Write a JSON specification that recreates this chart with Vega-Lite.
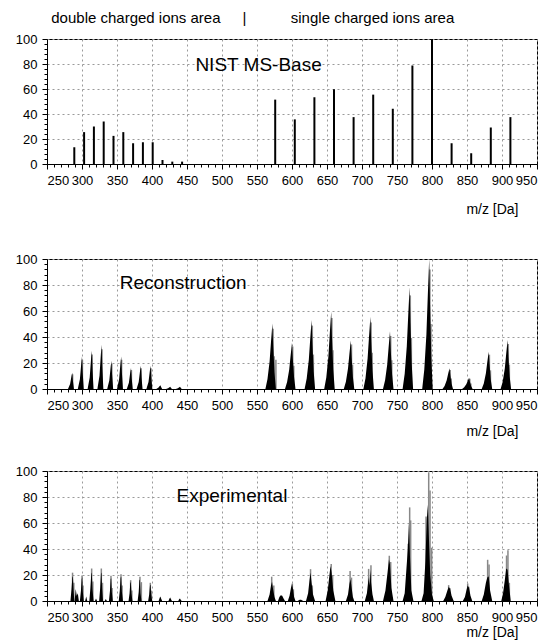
{
  "$schema": "https://vega.github.io/schema/vega-lite/v6.json",
  "padding": {"left": 14, "top": 10, "right": 0, "bottom": 0},
  "bounds": "flush",
  "spacing": 95,
  "config": {
    "font": "Liberation Sans",
    "view": {"stroke": "black", "strokeWidth": 1},
    "axis": {
      "labelFont": "Liberation Sans",
      "labelFontSize": 13,
      "labelColor": "black",
      "labelOverlap": false,
      "domainColor": "black",
      "tickColor": "black",
      "gridColor": "#9a9a9a",
      "gridDash": [2, 3],
      "gridWidth": 1,
      "gridOpacity": 1,
      "titleFont": "Liberation Sans",
      "titleFontWeight": "normal",
      "titleFontSize": 14,
      "titleColor": "black"
    }
  },
  "vconcat": [
    {
      "width": 490,
      "height": 125,
      "resolve": {"axis": {"x": "independent", "y": "independent"}},
      "encoding": {
        "x": {"field": "mz", "type": "quantitative", "scale": {"domain": [250, 950], "nice": false, "zero": false}, "axis": null},
        "y": {"field": "int", "type": "quantitative", "stack": null, "scale": {"domain": [0, 100], "nice": false}, "axis": null}
      },
      "layer": [
        {
          "data": {"values": [
            {"mz": 289, "int": 13.4}, {"mz": 303, "int": 25.5}, {"mz": 317, "int": 30}, {"mz": 331, "int": 34},
            {"mz": 345, "int": 22.5}, {"mz": 359, "int": 25.5}, {"mz": 373, "int": 16.6}, {"mz": 387, "int": 17.4},
            {"mz": 401, "int": 17.4}, {"mz": 415, "int": 3.2}, {"mz": 429, "int": 1.9}, {"mz": 443, "int": 1.9},
            {"mz": 576, "int": 51.5}, {"mz": 604, "int": 35.7}, {"mz": 632, "int": 53.4}, {"mz": 660, "int": 59.8},
            {"mz": 688, "int": 37.5}, {"mz": 716, "int": 55.5}, {"mz": 744, "int": 44.2}, {"mz": 772, "int": 78.8},
            {"mz": 800, "int": 100}, {"mz": 828, "int": 16.6}, {"mz": 856, "int": 8.6}, {"mz": 884, "int": 29.2},
            {"mz": 912, "int": 37.5}
          ]},
          "mark": {"type": "rule", "color": "black", "strokeWidth": 2},
          "encoding": {
            "x": {"field": "mz", "type": "quantitative", "scale": {"domain": [250, 950], "nice": false, "zero": false},
              "axis": {"orient": "bottom", "values": [250,300,350,400,450,500,550,600,650,700,750,800,850,900,950], "grid": true, "tickSize": 5, "labelPadding": 5,
                "title": "m/z  [Da]", "titleAnchor": "end", "titleAlign": "right", "titleBaseline": "middle", "titleX": 471, "titleY": 45}},
            "y": {"field": "int", "type": "quantitative", "stack": null, "scale": {"domain": [0, 100], "nice": false},
              "axis": {"orient": "left", "values": [0,20,40,60,80,100], "grid": true, "tickSize": 5, "labelPadding": 5, "title": null}},
            "y2": {"datum": 0}
          }
        },
        {
          "data": {"values": [
            {"mz": 377, "int": 116.8, "label": "double charged ions area"},
            {"mz": 532, "int": 116.8, "label": "|"},
            {"mz": 715, "int": 116.8, "label": "single charged ions area"}
          ]},
          "mark": {"type": "text", "fontSize": 15, "align": "center", "baseline": "middle", "color": "black"},
          "encoding": {"text": {"field": "label"}}
        },
        {
          "data": {"values": [{"mz": 462, "int": 79.2, "label": "NIST MS-Base"}]},
          "mark": {"type": "text", "fontSize": 19, "align": "left", "baseline": "middle", "color": "black"},
          "encoding": {
            "text": {"field": "label"},
            "x": {"field": "mz", "type": "quantitative", "scale": {"domain": [250, 950], "nice": false, "zero": false},
              "axis": {"orient": "bottom", "values": [260,270,280,290,310,320,330,340,360,370,380,390,410,420,430,440,460,470,480,490,510,520,530,540,560,570,580,590,610,620,630,640,660,670,680,690,710,720,730,740,760,770,780,790,810,820,830,840,860,870,880,890,910,920,930,940], "labels": false, "grid": false, "domain": false, "tickSize": 3, "title": null}},
            "y": {"field": "int", "type": "quantitative", "scale": {"domain": [0, 100], "nice": false},
              "axis": {"orient": "left", "values": [4,8,12,16,24,28,32,36,44,48,52,56,64,68,72,76,84,88,92,96], "labels": false, "grid": false, "domain": false, "tickSize": 3, "title": null}}
          }
        }
      ]
    },
    {
      "bounds": "flush",
      "spacing": 82,
      "vconcat": [
        {
          "width": 490,
          "height": 130,
          "resolve": {"axis": {"x": "independent", "y": "independent"}},
          "encoding": {
            "x": {"field": "mz", "type": "quantitative", "scale": {"domain": [250, 950], "nice": false, "zero": false}, "axis": null},
            "y": {"field": "int", "type": "quantitative", "stack": null, "scale": {"domain": [0, 100], "nice": false}, "axis": null}
          },
          "layer": [
            {
              "data": {"values": [
                {"mz": 286.6, "int": 11.3}, {"mz": 300.6, "int": 22.5}, {"mz": 314.6, "int": 26.6}, {"mz": 328.6, "int": 30.6},
                {"mz": 342.6, "int": 19.5}, {"mz": 356.6, "int": 22.5}, {"mz": 370.6, "int": 14.6}, {"mz": 384.6, "int": 16},
                {"mz": 398.6, "int": 16},
                {"mz": 573, "int": 46.4}, {"mz": 574.5, "int": 25.2}, {"mz": 577, "int": 22.5},
                {"mz": 601, "int": 32.7}, {"mz": 602.5, "int": 17.8},
                {"mz": 629, "int": 48.8}, {"mz": 630.5, "int": 26.5},
                {"mz": 657, "int": 54.7}, {"mz": 658.5, "int": 29.8},
                {"mz": 685, "int": 34.3}, {"mz": 686.5, "int": 18.7},
                {"mz": 713, "int": 51.2}, {"mz": 714.5, "int": 27.8},
                {"mz": 741, "int": 40.8}, {"mz": 742.5, "int": 22.2},
                {"mz": 769, "int": 72}, {"mz": 770.5, "int": 39.2},
                {"mz": 797, "int": 92}, {"mz": 798.5, "int": 50},
                {"mz": 826, "int": 14.7}, {"mz": 827.5, "int": 8},
                {"mz": 854, "int": 7.9}, {"mz": 855.5, "int": 4.3},
                {"mz": 882, "int": 26.4}, {"mz": 883.5, "int": 14.4},
                {"mz": 909, "int": 34.6}, {"mz": 910.5, "int": 18.8}
              ]},
              "mark": {"type": "rule", "color": "#888888", "strokeWidth": 1.5},
              "encoding": {
                "x": {"field": "mz", "type": "quantitative", "scale": {"domain": [250, 950], "nice": false, "zero": false},
                  "axis": {"orient": "bottom", "values": [250,300,350,400,450,500,550,600,650,700,750,800,850,900,950], "grid": true, "tickSize": 5, "labelPadding": 5,
                    "title": "m/z  [Da]", "titleAnchor": "end", "titleAlign": "right", "titleBaseline": "middle", "titleX": 471, "titleY": 42}},
                "y": {"field": "int", "type": "quantitative", "stack": null, "scale": {"domain": [0, 100], "nice": false},
                  "axis": {"orient": "left", "values": [0,20,40,60,80,100], "grid": true, "tickSize": 5, "labelPadding": 5, "title": null}},
                "y2": {"datum": 0}
              }
            },
            {
              "data": {"values": [
                {"c": 1, "mz": [280, 283, 285, 286, 287, 288.5], "int": [0, 3.8, 10, 12.5, 6.3, 0]},
                {"c": 2, "mz": [294, 297, 299, 300, 301, 302.5], "int": [0, 7.5, 20, 25, 12.5, 0]},
                {"c": 3, "mz": [308, 311, 313, 314, 315, 316.5], "int": [0, 8.9, 23.6, 29.5, 14.8, 0]},
                {"c": 4, "mz": [322, 325, 327, 328, 329, 330.5], "int": [0, 10.2, 27.2, 34, 17, 0]},
                {"c": 5, "mz": [336, 339, 341, 342, 343, 344.5], "int": [0, 6.5, 17.4, 21.7, 10.9, 0]},
                {"c": 6, "mz": [350, 353, 355, 356, 357, 358.5], "int": [0, 7.5, 20, 25, 12.5, 0]},
                {"c": 7, "mz": [364, 367, 369, 370, 371, 372.5], "int": [0, 4.9, 13, 16.2, 8.1, 0]},
                {"c": 8, "mz": [378, 381, 383, 384, 385, 386.5], "int": [0, 5.3, 14.2, 17.8, 8.9, 0]},
                {"c": 9, "mz": [392, 395, 397, 398, 399, 400.5], "int": [0, 5.3, 14.2, 17.8, 8.9, 0]},
                {"c": 10, "mz": [406, 409, 411, 412, 413, 414.5], "int": [0, 0.9, 2.3, 2.9, 1.5, 0]},
                {"c": 11, "mz": [420, 423, 425, 426, 427, 428.5], "int": [0, 0.5, 1.4, 1.8, 0.9, 0]},
                {"c": 12, "mz": [434, 437, 439, 440, 441, 442.5], "int": [0, 0.5, 1.4, 1.8, 0.9, 0]},
                {"c": 13, "mz": [562, 565, 568, 570, 572, 573.2, 575, 577], "int": [0, 7.6, 21.2, 36.3, 50.4, 32.8, 12.6, 0]},
                {"c": 14, "mz": [590, 593, 596, 598, 600, 601.2, 603, 605], "int": [0, 5.3, 14.9, 25.6, 35.5, 23.1, 8.9, 0]},
                {"c": 15, "mz": [618, 621, 624, 626, 628, 629.2, 631, 633], "int": [0, 8, 22.3, 38.2, 53, 34.5, 13.3, 0]},
                {"c": 16, "mz": [646, 649, 652, 654, 656, 657.2, 659, 661], "int": [0, 8.9, 25, 42.8, 59.5, 38.7, 14.9, 0]},
                {"c": 17, "mz": [674, 677, 680, 682, 684, 685.2, 687, 689], "int": [0, 5.6, 15.7, 26.9, 37.3, 24.2, 9.3, 0]},
                {"c": 18, "mz": [702, 705, 708, 710, 712, 713.2, 715, 717], "int": [0, 8.3, 23.4, 40, 55.6, 36.1, 13.9, 0]},
                {"c": 19, "mz": [730, 733, 736, 738, 740, 741.2, 743, 745], "int": [0, 6.7, 18.6, 32, 44.4, 28.9, 11.1, 0]},
                {"c": 20, "mz": [758, 761, 764, 766, 768, 769.2, 771, 773], "int": [0, 11.7, 32.9, 56.4, 78.3, 50.9, 19.6, 0]},
                {"c": 21, "mz": [786, 789, 792, 794, 796, 797.2, 799, 801], "int": [0, 15, 42, 72, 100, 65, 25, 0]},
                {"c": 22, "mz": [815, 818, 821, 823, 825, 826.2, 828, 830], "int": [0, 2.4, 6.7, 11.5, 16, 10.4, 4, 0]},
                {"c": 23, "mz": [843, 846, 849, 851, 853, 854.2, 856, 858], "int": [0, 1.3, 3.6, 6.2, 8.6, 5.6, 2.2, 0]},
                {"c": 24, "mz": [871, 874, 877, 879, 881, 882.2, 884, 886], "int": [0, 4.3, 12.1, 20.7, 28.7, 18.7, 7.2, 0]},
                {"c": 25, "mz": [898, 901, 904, 906, 908, 909.2, 911, 913], "int": [0, 5.6, 15.8, 27.1, 37.6, 24.4, 9.4, 0]}
              ]},
              "transform": [{"flatten": ["mz", "int"]}],
              "mark": {"type": "area", "color": "black", "interpolate": "linear"},
              "encoding": {"detail": {"field": "c", "type": "nominal"}}
            },
            {
              "data": {"values": [{"mz": 354, "int": 81.7, "label": "Reconstruction"}]},
              "mark": {"type": "text", "fontSize": 19, "align": "left", "baseline": "middle", "color": "black"},
              "encoding": {
                "text": {"field": "label"},
                "x": {"field": "mz", "type": "quantitative", "scale": {"domain": [250, 950], "nice": false, "zero": false},
                  "axis": {"orient": "bottom", "values": [260,270,280,290,310,320,330,340,360,370,380,390,410,420,430,440,460,470,480,490,510,520,530,540,560,570,580,590,610,620,630,640,660,670,680,690,710,720,730,740,760,770,780,790,810,820,830,840,860,870,880,890,910,920,930,940], "labels": false, "grid": false, "domain": false, "tickSize": 3, "title": null}},
                "y": {"field": "int", "type": "quantitative", "scale": {"domain": [0, 100], "nice": false},
                  "axis": {"orient": "left", "values": [4,8,12,16,24,28,32,36,44,48,52,56,64,68,72,76,84,88,92,96], "labels": false, "grid": false, "domain": false, "tickSize": 3, "title": null}}
              }
            }
          ]
        },
        {
          "width": 490,
          "height": 130,
          "resolve": {"axis": {"x": "independent", "y": "independent"}},
          "encoding": {
            "x": {"field": "mz", "type": "quantitative", "scale": {"domain": [250, 950], "nice": false, "zero": false}, "axis": null},
            "y": {"field": "int", "type": "quantitative", "stack": null, "scale": {"domain": [0, 100], "nice": false}, "axis": null}
          },
          "layer": [
            {
              "data": {"values": [
                {"mz": 286.5, "int": 21.8}, {"mz": 288.3, "int": 14}, {"mz": 300, "int": 19.7}, {"mz": 301.5, "int": 12},
                {"mz": 313.8, "int": 25}, {"mz": 315.5, "int": 15}, {"mz": 327.6, "int": 25}, {"mz": 329.3, "int": 14},
                {"mz": 341.4, "int": 19.5}, {"mz": 343, "int": 10}, {"mz": 355.7, "int": 20.5}, {"mz": 357.3, "int": 12},
                {"mz": 369.5, "int": 16}, {"mz": 371.2, "int": 8}, {"mz": 382.8, "int": 18.7}, {"mz": 384.8, "int": 14.5},
                {"mz": 397.6, "int": 14}, {"mz": 399.2, "int": 8},
                {"mz": 571, "int": 18.7}, {"mz": 574, "int": 12}, {"mz": 600.5, "int": 13.5}, {"mz": 602, "int": 9},
                {"mz": 626.5, "int": 24.5}, {"mz": 629, "int": 12}, {"mz": 656, "int": 28.5}, {"mz": 658, "int": 20},
                {"mz": 683, "int": 23.1}, {"mz": 685, "int": 18}, {"mz": 709.5, "int": 24.7}, {"mz": 712.8, "int": 27.5},
                {"mz": 739, "int": 34.8}, {"mz": 741, "int": 30}, {"mz": 766, "int": 44}, {"mz": 768.1, "int": 72},
                {"mz": 769.5, "int": 62}, {"mz": 791.5, "int": 65}, {"mz": 795.3, "int": 99}, {"mz": 797.2, "int": 85},
                {"mz": 799.5, "int": 41}, {"mz": 823.8, "int": 12.2}, {"mz": 825.5, "int": 10}, {"mz": 851, "int": 13.5},
                {"mz": 852.5, "int": 11}, {"mz": 879.5, "int": 31.7}, {"mz": 881.5, "int": 28}, {"mz": 906.5, "int": 35},
                {"mz": 908.5, "int": 39}, {"mz": 910.5, "int": 14}
              ]},
              "mark": {"type": "rule", "color": "#888888", "strokeWidth": 1.5},
              "encoding": {
                "x": {"field": "mz", "type": "quantitative", "scale": {"domain": [250, 950], "nice": false, "zero": false},
                  "axis": {"orient": "bottom", "values": [250,300,350,400,450,500,550,600,650,700,750,800,850,900,950], "grid": true, "tickSize": 5, "labelPadding": 5,
                    "title": "m/z  [Da]", "titleAnchor": "end", "titleAlign": "right", "titleBaseline": "middle", "titleX": 471, "titleY": 31}},
                "y": {"field": "int", "type": "quantitative", "stack": null, "scale": {"domain": [0, 100], "nice": false},
                  "axis": {"orient": "left", "values": [0,20,40,60,80,100], "grid": true, "tickSize": 5, "labelPadding": 5, "title": null}},
                "y2": {"datum": 0}
              }
            },
            {
              "data": {"values": [
                {"c": 1, "mz": [283.5, 285, 286.2, 287, 288, 289], "int": [0, 9, 18, 19, 8, 0]},
                {"c": 2, "mz": [289.5, 291, 292.5, 294, 295.5], "int": [0, 9.3, 4, 6, 0]},
                {"c": 3, "mz": [297, 298.5, 299.6, 300.3, 301.2, 302.5], "int": [0, 8, 17, 18, 7, 0]},
                {"c": 4, "mz": [304.5, 306, 307.5], "int": [0, 3.5, 0]},
                {"c": 5, "mz": [310.5, 312, 313.3, 314, 315, 316.5], "int": [0, 10, 21, 22, 9, 0]},
                {"c": 6, "mz": [318.5, 320, 321.5], "int": [0, 2, 0]},
                {"c": 7, "mz": [324.5, 326, 327.1, 327.8, 328.8, 330], "int": [0, 10, 21, 22, 9, 0]},
                {"c": 8, "mz": [332.5, 334, 335.5], "int": [0, 1.5, 0]},
                {"c": 9, "mz": [338.5, 340, 341, 341.7, 342.6, 344], "int": [0, 8, 17, 17.5, 7, 0]},
                {"c": 10, "mz": [352.5, 354, 355.2, 356, 357, 358.5], "int": [0, 8, 18, 18.5, 7, 0]},
                {"c": 11, "mz": [366.5, 368, 369, 369.8, 370.7, 372], "int": [0, 6, 14, 14.5, 6, 0]},
                {"c": 12, "mz": [379.5, 381, 382, 382.7, 383.6, 385], "int": [0, 7, 16, 16.5, 6, 0]},
                {"c": 13, "mz": [394.5, 396, 397.1, 397.9, 398.8, 400.3], "int": [0, 5, 12, 12.5, 5, 0]},
                {"c": 14, "mz": [409.5, 411, 412, 413, 414.5], "int": [0, 2.5, 3.5, 2, 0]},
                {"c": 15, "mz": [423.5, 425, 426, 427, 428.5], "int": [0, 2, 2.7, 1.5, 0]},
                {"c": 16, "mz": [437.5, 439, 440, 441, 442.5], "int": [0, 1.5, 2, 1, 0]},
                {"c": 17, "mz": [565, 568, 570, 571.5, 573, 575, 577], "int": [0, 5, 12, 14.8, 9, 3, 0]},
                {"c": 18, "mz": [580, 582, 584, 586, 588, 590], "int": [0, 3, 4.4, 4, 2, 0]},
                {"c": 19, "mz": [594, 596.5, 598.5, 600, 601.5, 603, 605], "int": [0, 4, 10, 13, 9, 3, 0]},
                {"c": 20, "mz": [608, 611, 613, 616], "int": [0, 1, 1, 0]},
                {"c": 21, "mz": [620, 623, 625, 626.5, 628, 630, 633], "int": [0, 6, 16, 22, 14, 5, 0]},
                {"c": 22, "mz": [648, 651, 653.5, 655, 656.5, 659, 662], "int": [0, 8, 20, 27, 22, 8, 0]},
                {"c": 23, "mz": [677, 680, 682, 683.5, 685, 687, 689], "int": [0, 5, 13, 17, 11, 3, 0]},
                {"c": 24, "mz": [704, 707, 709.5, 710.5, 712, 713, 715, 717], "int": [0, 6, 18, 12, 24, 14, 5, 0]},
                {"c": 25, "mz": [730, 733.5, 736.5, 738.5, 740, 742, 745], "int": [0, 8, 22, 32, 28, 10, 0]},
                {"c": 26, "mz": [758, 761, 763.5, 765.5, 767, 768.5, 770.5, 773.5], "int": [0, 6, 25, 40, 60, 35, 8, 0]},
                {"c": 27, "mz": [785, 788, 790.5, 792.5, 794, 795.5, 797.5, 800, 802.5], "int": [0, 6, 30, 62, 74, 50, 20, 5, 0]},
                {"c": 28, "mz": [816, 819, 822, 824, 826, 828, 831], "int": [0, 3, 8, 11, 9, 4, 0]},
                {"c": 29, "mz": [844, 847, 849.5, 851, 853, 855, 857.5], "int": [0, 3, 9, 12, 10, 4, 0]},
                {"c": 30, "mz": [871, 874, 877, 879, 881, 883, 886], "int": [0, 5, 14, 18, 19, 8, 0]},
                {"c": 31, "mz": [899, 901.5, 904, 906, 908, 910, 912.5], "int": [0, 6, 16, 25, 24, 12, 0]}
              ]},
              "transform": [{"flatten": ["mz", "int"]}],
              "mark": {"type": "area", "color": "black", "interpolate": "linear"},
              "encoding": {"detail": {"field": "c", "type": "nominal"}}
            },
            {
              "data": {"values": [{"mz": 435, "int": 80.9, "label": "Experimental"}]},
              "mark": {"type": "text", "fontSize": 19, "align": "left", "baseline": "middle", "color": "black"},
              "encoding": {
                "text": {"field": "label"},
                "x": {"field": "mz", "type": "quantitative", "scale": {"domain": [250, 950], "nice": false, "zero": false},
                  "axis": {"orient": "bottom", "values": [260,270,280,290,310,320,330,340,360,370,380,390,410,420,430,440,460,470,480,490,510,520,530,540,560,570,580,590,610,620,630,640,660,670,680,690,710,720,730,740,760,770,780,790,810,820,830,840,860,870,880,890,910,920,930,940], "labels": false, "grid": false, "domain": false, "tickSize": 3, "title": null}},
                "y": {"field": "int", "type": "quantitative", "scale": {"domain": [0, 100], "nice": false},
                  "axis": {"orient": "left", "values": [4,8,12,16,24,28,32,36,44,48,52,56,64,68,72,76,84,88,92,96], "labels": false, "grid": false, "domain": false, "tickSize": 3, "title": null}}
              }
            }
          ]
        }
      ]
    }
  ]
}
